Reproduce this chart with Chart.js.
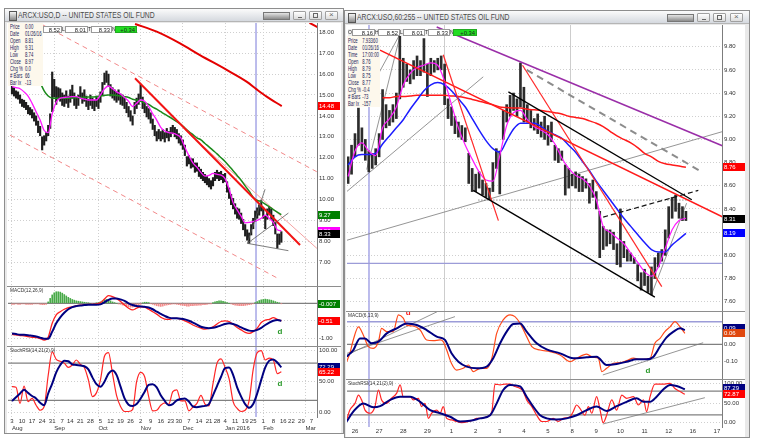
<!DOCTYPE html>
<html>
<head>
<meta charset="utf-8">
<title>ARCX:USO</title>
<script src="https://cdn.jsdelivr.net/npm/chart.js@4.4.1/dist/chart.umd.min.js"></script>
<style>
html,body{margin:0;padding:0;}
body{width:763px;height:442px;position:relative;overflow:hidden;background:#fff;font-family:"Liberation Sans",Arial,sans-serif;}
.win{position:absolute;background:#e9e9e9;border:1px solid #8d8d8d;box-sizing:border-box;}
.tbar{position:absolute;height:13px;background:linear-gradient(#fbfbfb,#d5d9df);border-bottom:1px solid #b5b5b5;box-sizing:border-box;}
.ttl{position:absolute;font-size:8.5px;color:#4a4a4a;white-space:nowrap;transform:scaleX(0.8);transform-origin:0 0;line-height:10px;}
.ico{position:absolute;width:6px;height:8px;border:1px solid #555;background:linear-gradient(#f4f4f4,#8a8a8a);}
.wid{position:absolute;height:6px;border:1px solid #777;background:linear-gradient(#e4e4e4,#8c8c8c);}
.btn{position:absolute;width:13px;height:9px;border:1px solid #a0a0a0;border-radius:1px;background:linear-gradient(#fff,#dcdcdc);box-sizing:border-box;}
.btn i{position:absolute;display:block;}
.plot{position:absolute;background:#fff;}
.sep{position:absolute;height:1px;background:#8e8e8e;}
canvas{position:absolute;}
.plbl{position:absolute;font-size:6px;color:#333;white-space:nowrap;transform:scaleX(0.8);transform-origin:0 0;}
.info{position:absolute;background:#fdf8ec;}
.info div{position:absolute;font-size:6.3px;color:#23235a;white-space:nowrap;transform:scaleX(0.68);transform-origin:0 0;line-height:7px;}
.tbx{position:absolute;height:7px;background:#fff;border:1px solid #9a9a9a;box-sizing:border-box;font-size:5.8px;line-height:6px;text-align:right;padding-right:1px;color:#222;overflow:hidden;}
.tlt{position:absolute;height:7px;width:3px;font-size:5px;line-height:7px;color:#222;background:#eee;text-align:center;}
</style>
</head>
<body>
<!-- left window -->
<div class="win" style="left:4px;top:8px;width:340px;height:426px;"></div>
<div class="tbar" style="left:5px;top:9px;width:338px;"></div>
<div class="ico" style="left:9px;top:11px;"></div>
<div class="ttl" style="left:18px;top:10px;">ARCX:USO,D -- UNITED STATES OIL FUND</div>
<div class="wid" style="left:263px;top:12px;width:25px;"></div>
<div class="btn" style="left:293px;top:11px;"><i style="left:4px;top:5px;width:4px;height:1px;background:#666"></i></div>
<div class="btn" style="left:309px;top:11px;"><i style="left:3px;top:1px;width:5px;height:5px;border:1px solid #666;box-sizing:border-box"></i></div>
<div class="btn" style="left:325px;top:11px;"><i style="left:3px;top:-2px;font-size:8px;color:#666;font-style:normal">&#215;</i></div>
<div class="plot" style="left:7px;top:23px;width:334px;height:410px;"></div>
<div class="sep" style="left:7px;top:286px;width:334px;"></div>
<div class="sep" style="left:7px;top:346px;width:334px;"></div>

<!-- right window -->
<div class="win" style="left:344px;top:10px;width:406px;height:428px;"></div>
<div class="tbar" style="left:345px;top:11px;width:404px;"></div>
<div class="ico" style="left:348px;top:13px;"></div>
<div class="ttl" style="left:357px;top:12px;">ARCX:USO,60:255 -- UNITED STATES OIL FUND</div>
<div class="wid" style="left:667px;top:14px;width:25px;"></div>
<div class="btn" style="left:697px;top:13px;"><i style="left:4px;top:5px;width:4px;height:1px;background:#666"></i></div>
<div class="btn" style="left:713px;top:13px;"><i style="left:3px;top:1px;width:5px;height:5px;border:1px solid #666;box-sizing:border-box"></i></div>
<div class="btn" style="left:730px;top:13px;"><i style="left:3px;top:-2px;font-size:8px;color:#666;font-style:normal">&#215;</i></div>
<div class="plot" style="left:346px;top:25px;width:399px;height:412px;"></div>
<div class="sep" style="left:346px;top:311px;width:399px;"></div>
<div class="sep" style="left:346px;top:379px;width:399px;"></div>

<canvas id="lp" width="332" height="263" style="left:8px;top:23px;"></canvas>
<canvas id="lm" width="332" height="59" style="left:8px;top:287px;"></canvas>
<canvas id="ls" width="332" height="86" style="left:8px;top:347px;"></canvas>
<canvas id="rp" width="398" height="286" style="left:347px;top:25px;"></canvas>
<canvas id="rm" width="398" height="67" style="left:347px;top:312px;"></canvas>
<canvas id="rs" width="398" height="57" style="left:347px;top:380px;"></canvas>

<!-- overlays: left -->
<div class="info" style="left:8px;top:23px;width:35px;height:63px;">
  <div style="left:2px;top:0px">Price<span style="position:absolute;left:22px">0.00</span></div>
  <div style="left:2px;top:7px">Date<span style="position:absolute;left:22px">01/26/16</span></div>
  <div style="left:2px;top:14px">Open<span style="position:absolute;left:22px">8.81</span></div>
  <div style="left:2px;top:21px">High<span style="position:absolute;left:22px">9.31</span></div>
  <div style="left:2px;top:28px">Low<span style="position:absolute;left:22px">8.74</span></div>
  <div style="left:2px;top:35px">Close<span style="position:absolute;left:22px">8.97</span></div>
  <div style="left:2px;top:42px">Chg %<span style="position:absolute;left:22px">0.0</span></div>
  <div style="left:2px;top:49px"># Bars<span style="position:absolute;left:22px">66</span></div>
  <div style="left:2px;top:56px">Bar Ix<span style="position:absolute;left:22px">-13</span></div>
</div>
<div class="tbx" style="left:43px;top:26px;width:19px;">8.52</div>
<div class="tlt" style="left:62px;top:26px;">L</div>
<div class="tbx" style="left:65px;top:26px;width:23px;">8.01</div>
<div class="tlt" style="left:88px;top:26px;">T</div>
<div class="tbx" style="left:91px;top:26px;width:21px;">8.33</div>
<div class="tlt" style="left:112px;top:26px;">N</div>
<div class="tbx" style="left:115px;top:26px;width:22px;background:#22dd22;border-color:#22aa22;">+0.34</div>
<div class="plbl" style="left:10px;top:287px;">MACD(12,26,9)</div>
<div class="plbl" style="left:10px;top:347px;">StochRSI(14,21(2),9)</div>

<!-- overlays: right -->
<div class="tlt" style="left:348px;top:29px;width:4px;">O</div>
<div class="tbx" style="left:352px;top:29px;width:23px;">8.16</div>
<div class="tlt" style="left:375px;top:29px;">H</div>
<div class="tbx" style="left:378px;top:29px;width:22px;">8.52</div>
<div class="tlt" style="left:400px;top:29px;">L</div>
<div class="tbx" style="left:403px;top:29px;width:22px;">8.01</div>
<div class="tlt" style="left:425px;top:29px;">T</div>
<div class="tbx" style="left:428px;top:29px;width:22px;">8.33</div>
<div class="tlt" style="left:450px;top:29px;">N</div>
<div class="tbx" style="left:453px;top:29px;width:24px;background:#22dd22;border-color:#22aa22;">+0.34</div>
<div class="info" style="left:347px;top:36px;width:33px;height:71px;">
  <div style="left:1px;top:1px">Price<span style="position:absolute;left:21px">7.93360</span></div>
  <div style="left:1px;top:8px">Date<span style="position:absolute;left:21px">01/26/16</span></div>
  <div style="left:1px;top:15px">Time<span style="position:absolute;left:21px">17:00:00</span></div>
  <div style="left:1px;top:22px">Open<span style="position:absolute;left:21px">8.76</span></div>
  <div style="left:1px;top:29px">High<span style="position:absolute;left:21px">8.79</span></div>
  <div style="left:1px;top:36px">Low<span style="position:absolute;left:21px">8.75</span></div>
  <div style="left:1px;top:43px">Close<span style="position:absolute;left:21px">8.77</span></div>
  <div style="left:1px;top:50px">Chg %<span style="position:absolute;left:21px">-0.4</span></div>
  <div style="left:1px;top:57px"># Bars<span style="position:absolute;left:21px">-73</span></div>
  <div style="left:1px;top:64px">Bar Ix<span style="position:absolute;left:21px">-157</span></div>
</div>
<div class="plbl" style="left:348px;top:312px;">MACD(6,13,9)</div>
<div class="plbl" style="left:348px;top:380px;">StochRSI(14,21(2),9)</div>

<script>
const FONT = '"Liberation Sans", Arial, sans-serif';

/* ================= LEFT: daily (x = trading-day index from Aug 3, 2015) ================= */
const leftDayTicks = [0,5,10,15,20,25,29,34,39,44,49,54,59,64,69,74,79,83,88,93,98,102,106,111,116,120,125,130,135,139,144,149];
const leftDayLabels = ['3','10','17','24','31','7','14','21','28','5','12','19','26','2','9','16','23','30','7','14','21','28','4','11','19','25','1','8','16','22','29','7'];
const leftMonthTicks = [0,21,43,64,85,106,125,146];
const leftMonthLabels = ['Aug','Sep','Oct','Nov','Dec','Jan 2016','Feb','Mar'];
const leftPriceTicks = [7,8,9,10,11,12,13,14,15,16,17,18];
const leftMacdTicks = [0,-0.5,-1];
const stochTicks = [0,50,100];

const leftHigh = [15.45,15.35,15.2,15.15,15.0,14.8,14.75,14.65,14.5,14.4,14.3,14.15,14.0,13.75,13.5,13.0,13.05,13.2,13.55,14.1,
 16.1,15.75,15.4,15.35,15.3,15.1,15.0,15.2,14.95,15.25,15.47,15.1,14.85,15.0,15.4,15.1,15.25,14.95,14.8,15.0,
 14.85,14.75,14.95,14.85,15.15,15.6,16.05,16.15,16.0,15.5,15.35,15.25,15.15,15.25,15.05,15.0,14.85,14.65,14.45,14.25,
 14.0,14.65,14.85,15.05,15.5,14.9,14.65,14.45,14.35,14.15,13.85,13.55,13.25,13.35,13.25,13.35,13.2,13.4,13.25,13.45,
 13.55,13.45,13.35,13.15,13.05,12.85,12.6,12.05,12.1,11.95,11.95,11.75,11.75,11.55,11.45,11.3,11.2,11.1,11.0,10.9,
 11.05,11.3,11.4,11.3,11.35,11.2,11.25,10.85,10.55,10.25,10.05,9.8,9.6,9.55,9.35,9.05,8.8,8.55,8.4,8.8,
 9.1,9.45,9.6,9.75,9.95,9.6,9.2,9.55,9.66,9.55,9.25,8.9,8.35,8.35,8.46];
const leftLow = [15.05,14.95,14.85,14.8,14.6,14.45,14.4,14.3,14.1,14.05,13.9,13.75,13.55,13.2,13.05,12.37,12.6,12.8,13.05,13.4,
 14.2,14.9,14.55,14.8,14.7,14.5,14.45,14.6,14.4,14.65,14.85,14.5,14.35,14.5,14.85,14.6,14.7,14.45,14.3,14.5,
 14.35,14.25,14.45,14.35,14.65,15.0,15.5,15.6,15.4,14.95,14.85,14.75,14.65,14.75,14.55,14.5,14.35,14.15,13.95,13.75,
 13.56,14.1,14.35,14.55,14.8,14.35,14.15,13.95,13.85,13.65,13.35,13.05,12.8,12.9,12.8,12.9,12.75,12.95,12.8,13.0,
 13.15,13.0,12.9,12.7,12.6,12.4,12.1,11.6,11.7,11.5,11.55,11.3,11.35,11.1,11.0,10.9,10.8,10.7,10.6,10.5,
 10.65,10.9,11.0,10.9,10.95,10.8,10.85,10.35,10.05,9.75,9.55,9.3,9.1,9.05,8.85,8.55,8.25,8.05,7.9,8.3,
 8.6,8.95,9.1,9.25,9.45,9.1,8.6,9.05,9.3,9.05,8.75,8.35,7.67,7.85,7.95];
// moving averages / oscillators sampled every 2 trading days (from index 0)
const leftStep = 2;
const leftFastMA = [15.4,15.35,15.3,15.15,14.95,14.6,14.2,13.8,13.3,13.2,14.1,14.65,14.85,14.88,14.9,14.92,14.92,14.85,14.8,14.76,
 14.76,14.76,15.0,15.3,15.43,15.3,15.15,15.05,14.88,14.7,14.45,14.6,14.76,14.7,14.45,14.1,13.8,13.45,13.28,13.2,
 13.17,13.1,12.95,12.5,12.1,11.75,11.55,11.3,11.12,11.15,11.25,11.2,11.17,11.0,10.5,9.85,9.5,9.2,8.88,8.9,
 8.94,9.0,9.1,9.25,9.1,8.9,8.55,8.5];
const leftMidMAStart = 14;
const leftMidMA = [15.6,15.2,14.95,14.85,14.84,14.84,14.84,14.85,14.86,14.87,14.88,14.89,14.9,14.9,14.92,14.95,14.98,15.0,15.0,14.98,
 14.95,14.92,14.88,14.8,14.76,14.7,14.62,14.55,14.42,14.32,14.2,14.08,13.97,13.85,13.72,13.6,13.42,13.25,13.1,12.95,
 12.85,12.68,12.52,12.35,12.18,12.0,11.82,11.6,11.38,11.15,10.92,10.65,10.4,10.1,9.95,9.9,9.78,9.65,9.52,9.4,9.27];
const leftSlowMAX = [61.2,72,83.6,93.5,106.8,116.7,121.7,126.7,134.2];
const leftSlowMAY = [18.40,18.03,17.47,16.91,16.2,15.64,15.27,14.92,14.47];
const leftMacd = [-0.89,-0.90,-0.92,-0.93,-0.95,-0.97,-0.98,-1.01,-1.05,-0.97,-0.57,-0.33,-0.24,-0.17,-0.12,-0.10,-0.07,-0.05,-0.04,-0.03,
 -0.03,-0.02,0.02,0.12,0.22,0.19,0.13,0.05,-0.05,-0.14,-0.19,-0.14,-0.10,-0.11,-0.17,-0.24,-0.31,-0.40,-0.45,-0.46,
 -0.43,-0.43,-0.45,-0.50,-0.55,-0.62,-0.67,-0.71,-0.74,-0.72,-0.67,-0.59,-0.52,-0.50,-0.52,-0.60,-0.69,-0.76,-0.83,-0.86,
 -0.81,-0.71,-0.55,-0.48,-0.46,-0.41,-0.46,-0.50];
const leftSignal = [-0.86,-0.88,-0.90,-0.90,-0.91,-0.93,-0.95,-0.98,-1.01,-1.01,-0.81,-0.57,-0.40,-0.27,-0.17,-0.11,-0.08,-0.06,-0.05,-0.04,
 -0.04,-0.04,-0.03,0.03,0.10,0.14,0.14,0.11,0.07,0.00,-0.05,-0.08,-0.09,-0.10,-0.12,-0.17,-0.24,-0.30,-0.36,-0.41,
 -0.43,-0.43,-0.44,-0.46,-0.50,-0.55,-0.61,-0.67,-0.70,-0.71,-0.70,-0.67,-0.63,-0.59,-0.57,-0.59,-0.63,-0.69,-0.74,-0.78,
 -0.79,-0.76,-0.70,-0.62,-0.55,-0.50,-0.48,-0.50];
const leftHist = [-0.03,-0.03,-0.02,-0.03,-0.03,-0.02,-0.02,-0.03,-0.03,-0.03,-0.03,-0.02,-0.02,-0.02,-0.03,-0.04,-0.04,-0.03,
 0.04,0.14,0.24,0.30,0.33,0.33,0.32,0.29,0.25,0.21,0.17,0.14,0.11,0.09,0.07,0.06,0.05,0.04,0.03,0.02,
 0.01,0.00,-0.01,0.00,0.01,0.02,
 0.04,0.07,0.10,0.11,0.10,0.07,0.04,
 0.02,0.00,-0.02,-0.03,-0.05,-0.06,
 -0.08,-0.10,-0.11,-0.11,-0.09,-0.07,-0.05,-0.03,
 0.01,0.03,0.03,0.02,
 -0.01,-0.03,-0.05,-0.07,-0.08,-0.09,-0.08,-0.06,-0.05,-0.04,-0.03,-0.02,
 -0.02,-0.03,-0.04,-0.05,-0.06,-0.07,-0.08,-0.08,-0.07,-0.07,-0.06,-0.06,-0.05,-0.05,-0.04,-0.04,-0.03,-0.02,-0.01,
 0.02,0.04,0.06,0.07,0.07,0.06,0.04,0.02,0.00,
 -0.02,-0.04,-0.05,-0.06,-0.07,-0.07,-0.07,-0.06,-0.05,-0.04,-0.03,-0.01,
 0.02,0.05,0.08,0.10,0.11,0.12,0.11,0.10,0.09,0.07,0.05,0.03,0.01,-0.01];
const leftStochK = [42,41,15,43,18,23,12,4,10,60,98,86,83,80,73,77,85,78,73,53,
 26,32,53,91,97,63,28,10,2,2,5,50,65,58,26,3,4,12,16,14,
 34,37,19,19,3,9,15,28,14,11,47,80,87,73,55,18,7,2,4,20,
 70,97,100,85,88,85,63,66];
const leftStochD = [19,25,31,37,32,27,23,16,12,31,47,65,77,84,83,78,77,76,75,70,
 57,46,42,50,63,68,61,42,23,13,11,14,23,34,45,46,41,28,19,12,
 14,20,22,23,18,10,9,10,11,14,28,43,58,72,73,61,41,26,14,8,
 14,31,53,73,84,86,81,73];
const leftCursor = 121.4;
const leftTrendMain = [[61.2,15.80],[143.3,7.82]];
const leftTrendInner = [[86.1,13.33],[151.7,7.66]];
const leftChannelUpper = [[15.4,18.35],[151.6,11.33]];
const leftChannelLower = [[-1,13.08],[131.8,6.25]];
const leftTopRed = [[148,18.45],[152,18.25]];
const leftTriangle = [[[117.1,7.90],[125.9,10.49]],[[117.1,7.90],[137.5,9.35]],[[117.1,7.90],[137.5,7.55]]];
const leftPriceTagVals = [14.47,9.27,8.50,8.33];
const leftPriceTagText = ['14.48','9.27','8.50','8.33'];
const leftMacdTagVals = [-0.007,-0.51];
const leftMacdTagText = ['-0.007','-0.51'];
const leftStochTagVals = [74,65.22];
const leftStochTagText = ['72.29','65.22'];
const leftMarks = {macd:[133.3,-0.81], stoch:[133.3,46]};

/* ================= RIGHT: hourly (x = bar index, 7 bars per session, 0 = Jan 26 open) ================= */
const rightDayTicks = [0,7,14,21,28,35,42,49,56,63,70,77,84,91,98,105];
const rightDayLabels = ['26','27','28','29','1','2','3','4','5','8','9','10','11','12','16','17'];
const rightWeekLines = [26.1,62.4];
const rightPriceTicks = [7.6,7.8,8.0,8.2,8.4,8.6,8.8,9.0,9.2,9.4,9.6,9.8];
const rightMacdTicks = [0.1,0,-0.1];
const rightStart = -2;
const rightHigh = [8.85,8.95,9.05,9.27,9.10,9.00,8.90,8.88,8.92,9.05,9.43,9.30,9.25,9.30,9.40,9.92,9.70,9.65,9.60,9.68,
 9.72,9.68,9.87,9.65,9.70,9.68,9.70,9.72,9.65,9.35,9.28,9.20,9.15,9.12,9.10,8.88,8.75,8.70,8.72,8.65,
 8.62,8.58,8.80,8.92,8.90,9.25,9.30,9.38,9.40,9.35,9.66,9.45,9.30,9.25,9.18,9.22,9.15,9.20,9.12,9.15,
 8.95,8.92,8.90,8.78,8.75,8.70,8.72,8.70,8.68,8.66,8.62,8.65,8.55,8.38,8.25,8.22,8.22,8.20,8.10,8.40,
 8.12,8.05,8.02,7.98,7.92,7.85,7.88,7.82,7.90,7.98,8.02,8.05,8.22,8.42,8.50,8.52,8.45,8.42,8.38];
const rightLow = [8.62,8.70,8.85,8.95,8.90,8.82,8.72,8.75,8.78,8.85,9.00,9.10,9.12,9.15,9.18,9.35,9.45,9.50,9.48,9.52,
 9.55,9.55,9.58,9.37,9.55,9.58,9.60,9.60,9.30,9.18,9.12,9.05,9.02,9.00,8.98,8.62,8.55,8.55,8.58,8.52,
 8.50,8.48,8.55,8.75,8.53,9.00,9.15,9.20,9.25,9.20,9.28,9.15,9.15,9.10,9.08,9.05,9.02,9.00,8.95,8.98,
 8.82,8.80,8.82,8.52,8.58,8.60,8.58,8.55,8.55,8.58,8.45,8.50,8.40,7.98,8.05,8.08,8.10,8.05,7.92,7.90,
 7.98,7.95,7.95,7.93,7.78,7.70,7.74,7.68,7.66,7.80,7.90,7.95,8.00,8.15,8.32,8.38,8.32,8.30,8.30];
const rightStep = 2;
const rightFastMA = [8.68,8.90,8.97,8.90,8.86,9.10,9.18,9.28,9.47,9.57,9.62,9.64,9.66,9.64,9.50,9.30,9.10,8.95,8.83,8.72,
 8.65,8.64,8.86,9.12,9.23,9.25,9.17,9.11,9.08,9.04,8.96,8.84,8.75,8.69,8.66,8.60,8.48,8.25,8.20,8.15,
 8.10,8.02,7.94,7.86,7.82,7.90,8.06,8.22,8.30,8.32];
const rightMidMA = [8.78,8.85,8.87,8.87,8.88,8.96,9.03,9.10,9.17,9.26,9.34,9.42,9.47,9.49,9.47,9.42,9.35,9.28,9.18,9.08,
 8.99,8.92,8.89,8.99,9.09,9.14,9.14,9.14,9.11,9.07,9.04,9.01,8.95,8.89,8.81,8.73,8.64,8.56,8.48,8.40,
 8.32,8.25,8.18,8.11,8.05,8.03,8.03,8.09,8.14,8.19];
const rightSlowMAStart = 8;
const rightSlowMA = [9.36,9.36,9.37,9.37,9.375,9.38,9.38,9.38,9.38,9.38,9.375,9.37,9.36,9.345,9.33,9.315,9.30,9.28,9.275,9.27,
 9.27,9.26,9.255,9.25,9.24,9.23,9.22,9.20,9.19,9.18,9.16,9.14,9.11,9.07,9.03,9.00,8.97,8.93,8.88,8.85,
 8.81,8.79,8.78,8.77,8.76];
const rightMacdX = [-2.4,-1.5,-0.5,1,2.4,3.9,5.3,6.8,7.7,9.2,11.1,12.6,14,15,16.9,18.9,20.8,22.7,24.7,25.6,
 26.6,28,29.5,31.4,32.9,34.3,36.3,38.2,39.7,41.1,43,45,46.4,47.9,49.8,51.3,53.7,56.6,59.5,62.4,
 64.3,67.2,69.1,70.6,71.6,73,75,76.9,78.8,80.8,82.7,85.6,87,88.5,89.9,91.4,92.8,94.3,95.7];
const rightMacdY = [-0.10,-0.052,0.025,0.10,0.054,-0.013,-0.023,0.015,0.092,0.073,0.073,0.169,0.15,0.11,0.105,0.082,0.025,0.021,0.025,0.015,
 -0.033,-0.11,-0.148,-0.138,-0.119,-0.157,-0.138,-0.138,-0.08,0.063,0.14,0.169,0.159,0.12,0.044,-0.013,-0.033,-0.042,-0.061,-0.10,
 -0.08,-0.056,-0.075,-0.08,-0.157,-0.138,-0.109,-0.105,-0.094,-0.08,-0.086,-0.08,0.006,0.034,0.073,0.10,0.13,0.10,0.063];
const rightSignalX = [-2.4,-0.5,1.45,2.9,4.8,6.8,9.2,12.1,15,17.9,20.8,23.7,26.1,28,30,32.4,35.3,38.2,40.1,42.1,
 44,45.9,47.9,49.8,52.7,55.6,59.5,63.3,67.2,70.1,73,75.9,78.8,81.7,84.6,86.6,88.5,90.4,92.4,94.3,95.7];
const rightSignalY = [-0.071,-0.033,0.034,0.034,0.006,0.015,0.063,0.092,0.12,0.111,0.082,0.044,0.025,-0.052,-0.10,-0.128,-0.138,-0.128,-0.08,0.006,
 0.073,0.117,0.12,0.073,0.006,-0.029,-0.052,-0.08,-0.075,-0.071,-0.119,-0.113,-0.10,-0.086,-0.086,-0.071,-0.013,0.04,0.073,0.092,0.082];
const rightStochKX = [-2.4,-1.5,0,1,1.9,2.9,4.4,5.8,6.8,7.7,9.2,10.6,12.1,13.1,14,16,16.9,18.4,19.3,20.3,
 21.3,22.2,23.7,24.7,25.6,26.6,28,29.5,30.9,32.9,34.3,35.3,36.8,38.2,39.7,40.6,42.1,43.5,45,46.4,
 47.9,48.8,49.8,51.3,52.7,54.2,55.6,57.5,59,60.4,62.4,63.3,64.3,65.3,66.7,67.7,68.7,70.1,71.1,72,
 73,74.5,75.9,77.4,78.8,80.8,82.2,83.7,84.6,85.6,87,88.5,89.9,91.4,92.8,94.3,95.7];
const rightStochKY = [7,32,49,70,58,32,24,41,83,58,49,62,75,96,66,66,58,62,41,49,
 11,24,32,24,41,11,7,3,0,3,7,11,11,15,28,98,96,98,98,92,
 87,79,58,41,19,3,3,11,3,11,15,28,45,36,19,41,24,66,32,0,
 19,58,32,70,62,66,45,58,28,66,98,98,98,100,87,79,72];
const rightStochDX = [-2.4,-0.5,2.4,5.3,7.3,10.2,13.1,16,18.9,21.8,24.7,27.6,30.5,33.4,36.3,39.2,41.1,43,45,47.9,
 49.8,51.7,53.7,55.6,58.5,61.4,64.3,67.2,70.1,73,75.9,78.8,81.7,83.7,85.6,87.5,89.5,91.4,93.3,95.7];
const rightStochDY = [3,28,49,39,42,58,66,66,53,32,24,15,3,5,11,19,49,83,96,92,
 66,41,19,11,8,11,19,32,41,30,42,53,62,53,53,66,85,96,93,85];
const rightCursor = 4.06;
const rightSupportLevel = 7.93;
const rightDottedLevel = [[35.8,8.477],[97.2,8.477]];
const rightTrendRed = [[7.25,9.77],[106.8,8.33]];
const rightSteep1 = [[25.6,9.73],[41.6,8.30]];
const rightSteep2 = [[48.6,9.64],[89,7.73]];
const rightPurple = [[23.7,9.97],[112.7,8.87]];
const rightGrayDash = [[49.8,9.60],[100.6,8.72]];
const rightChanUpper = [[44.5,9.41],[97.7,8.48]];
const rightChanLower = [[34.3,8.56],[87,7.64]];
const rightBlackDash = [[72,8.33],[99.6,8.56]];
const rightThinGray = [[[-2.4,8.13],[106.9,9.07]],[[-2.4,8.55],[37.2,9.54]],[[3.4,8.74],[13.1,9.90]],[[7.06,9.58],[12.9,9.90]],[[86,7.66],[96.2,8.45]]];
const rightMacdLevel = 0.13;
const rightMacdSupport = [[[-2.32,-0.062],[23.8,0.187]],[[-2.32,-0.052],[29,0.159]],[[71.9,-0.176],[101,0.009]]];
const rightStochSupport = [[71.9,-3.3],[101.5,63.5]];
const rightPriceTagVals = [8.76,8.31,8.19];
const rightPriceTagText = ['8.76','8.31','8.19'];
const rightMacdTagVals = [0.092,0.063];
const rightMacdTagText = ['0.09','0.06'];
const rightStochTagVals = [87.29,72.87];
const rightStochTagText = ['87.29','72.87'];
const rightMarks = {red:[15.4,0.18], green:[85,-0.153]};

/* ================= helpers ================= */
const LX = {min:-1.99, max:151.74};
const RX = {min:-2.32, max:106.47};
const sampled = (arr, start, step) => arr.map((v,k) => ({x:start + k*step, y:v}));
const paired = (xs, ys) => xs.map((x,k) => ({x:x, y:ys[k]}));
const seg = s => s.map(p => ({x:p[0], y:p[1]}));
function L(data, color, width, extra) {
  return Object.assign({type:'line', data:data, borderColor:color, borderWidth:width, pointRadius:0,
    fill:false, tension:0, spanGaps:true}, extra || {});
}
const SM = {cubicInterpolationMode:'monotone'};
function hbars(hi, lo, start, color, th) {
  return {type:'bar', data:hi.map((h,k) => ({x:start + k, y:[lo[k], h]})), backgroundColor:color,
    borderWidth:0, barThickness:th, grouped:false};
}
function ordered(list) { list.forEach((d,k) => { d.order = list.length - k; }); return list; }
function tagPlugin(vals, texts, colors, marks) {
  return { id:'tags', afterDraw(chart) {
    const ctx = chart.ctx, ys = chart.scales.y, xs = chart.scales.x, a = chart.chartArea;
    ctx.save();
    vals.forEach((v,k) => {
      const y = ys.getPixelForValue(v);
      ctx.fillStyle = colors[k];
      ctx.fillRect(a.right + 1, Math.round(y) - 4, 22, 8);
      ctx.fillStyle = '#fff';
      ctx.font = '6px ' + FONT; ctx.textAlign = 'left'; ctx.textBaseline = 'middle';
      ctx.fillText(texts[k], a.right + 2, Math.round(y) + 0.5);
    });
    (marks || []).forEach(m => {
      ctx.fillStyle = m.color; ctx.font = 'bold 8px ' + FONT; ctx.textAlign = 'center'; ctx.textBaseline = 'middle';
      ctx.fillText('d', xs.getPixelForValue(m.x), ys.getPixelForValue(m.y));
    });
    ctx.restore();
  }};
}
function yAxis(min, max, ticks, dash) {
  return { type:'linear', position:'right', min:min, max:max,
    afterBuildTicks: s => { s.ticks = ticks.map(v => ({value:v})); },
    afterFit: s => { s.width = 23; s.paddingTop = 0; s.paddingBottom = 0; },
    ticks: { callback: v => Number(v).toFixed(2), font:{size:6, family:FONT}, color:'#333', padding:2, autoSkip:false },
    grid: { color:'#cfcfcf', lineWidth:1, drawTicks:false },
    border: { display:true, color:'#7c7c7c', width:1, dash:dash } };
}
function xGrid(range, gridTicks, color, dash) {
  return { type:'linear', min:range.min, max:range.max, offset:false,
    afterBuildTicks: s => { s.ticks = gridTicks.map(v => ({value:v})); },
    afterFit: s => { s.height = 0; s.paddingLeft = 0; s.paddingRight = 0; },
    ticks: { display:false },
    grid: { color:color, lineWidth:1, drawTicks:false, offset:false },
    border: { display:false, dash:dash } };
}
function xLabels(range, ticks, labels, h, align, weight, pad) {
  return { type:'linear', position:'bottom', min:range.min, max:range.max, offset:false, weight:weight,
    afterBuildTicks: s => { s.ticks = ticks.map(v => ({value:v})); },
    afterFit: s => { s.height = h; s.paddingLeft = 0; s.paddingRight = 0; },
    ticks: { autoSkip:false, maxRotation:0, minRotation:0, padding:pad, align:align,
      font:{size:6, family:FONT}, color:'#333', callback: (v,k) => labels[k] },
    grid: { display:false, drawTicks:false }, border: { display:false } };
}
function make(id, datasets, scales, plugin) {
  return new Chart(document.getElementById(id), {
    type:'bar',
    data:{ datasets: ordered(datasets) },
    options:{ responsive:false, animation:false, events:[], layout:{padding:0},
      plugins:{ legend:{display:false}, tooltip:{enabled:false} }, scales:scales },
    plugins:[plugin]
  });
}
const vline = (x, y0, y1, c, w) => L(seg([[x,y0],[x,y1]]), c, w);
const hline = (y, r, c, w, extra) => L(seg([[r.min,y],[r.max,y]]), c, w, extra);
const CURSOR = '#a6a6e6';

/* ================= LEFT charts ================= */
make('lp', [
  vline(leftCursor, 0, 30, CURSOR, 1.5),
  L(seg(leftChannelUpper), '#f2898a', 1, {borderDash:[5,4]}),
  L(seg(leftChannelLower), '#f2898a', 1, {borderDash:[5,4]}),
  hbars(leftHigh, leftLow, 0, '#1e1e1e', 1.5),
  L(seg(leftTrendInner), '#f4a2a2', 1),
  L(sampled(leftMidMA, leftMidMAStart, leftStep), '#1b8a1b', 1.5, SM),
  L(sampled(leftFastMA, 0, leftStep), '#ff19ff', 1.3, SM),
  L(paired(leftSlowMAX, leftSlowMAY), '#e40000', 2, SM),
  L(seg(leftTrendMain), '#f21414', 2),
  L(seg(leftTopRed), '#e40000', 2),
  ...leftTriangle.map(s => L(seg(s), '#5c5c5c', 0.8))
], { x: xGrid(LX, leftMonthTicks, '#cfcfcf', [1,2]), y: yAxis(5.86, 18.445, leftPriceTicks, [1,2]) },
  tagPlugin(leftPriceTagVals, leftPriceTagText, ['#ff0000','#008000','#ff00ff','#000000']));

make('lm', [
  vline(leftCursor, -5, 5, CURSOR, 1.5),
  hline(0, LX, '#808080', 1.2),
  {type:'bar', data:leftHist.map((v,k) => ({x:k, y:v})), backgroundColor:leftHist.map(v => v >= 0 ? '#48aa48' : '#f28a8a'),
    borderWidth:0, barThickness:1, grouped:false},
  L(sampled(leftMacd, 0, leftStep), '#ff2020', 1.3, SM),
  L(sampled(leftSignal, 0, leftStep), '#000080', 2, SM)
], { x: xGrid(LX, leftMonthTicks, '#cfcfcf', [1,2]), y: yAxis(-1.22, 0.466, leftMacdTicks, [1,2]) },
  tagPlugin(leftMacdTagVals, leftMacdTagText, ['#008000','#ff0000'],
    [{x:leftMarks.macd[0], y:leftMarks.macd[1], color:'#2a9a2a'}]));

make('ls', [
  vline(leftCursor, -20, 120, CURSOR, 1.5),
  hline(80, LX, '#808080', 1.3),
  hline(20, LX, '#808080', 1.3),
  L(sampled(leftStochK, 0, leftStep), '#ff2626', 1.2, SM),
  L(sampled(leftStochD, 0, leftStep), '#000080', 2, SM)
], { x: xLabels(LX, leftDayTicks, leftDayLabels, 8, 'center', 0, 1),
     x2: Object.assign(xLabels(LX, leftMonthTicks, leftMonthLabels, 8, 'start', 1, 0),
        { grid:{display:true, color:'#cfcfcf', drawTicks:false, offset:false}, border:{display:false, dash:[1,2]} }),
     y: yAxis(-6.9, 106.0, stochTicks, [1,2]) },
  tagPlugin(leftStochTagVals, leftStochTagText, ['#000080','#ff0000'],
    [{x:leftMarks.stoch[0], y:leftMarks.stoch[1], color:'#2a9a2a'}]));

/* ================= RIGHT charts ================= */
make('rp', [
  vline(rightCursor, 0, 20, CURSOR, 1.5),
  hline(rightSupportLevel, RX, '#9c9cd8', 1.2),
  ...rightThinGray.map(s => L(seg(s), '#7a7a7a', 0.8)),
  L(seg(rightDottedLevel), '#333', 0.8, {borderDash:[1,2]}),
  hbars(rightHigh, rightLow, rightStart, '#2c2c2c', 2),
  L(sampled(rightSlowMA, rightSlowMAStart, rightStep), '#ff1a1a', 1.5, SM),
  L(sampled(rightMidMA, rightStart, rightStep), '#1c1cff', 1.5, SM),
  L(sampled(rightFastMA, rightStart, rightStep), '#ff19ff', 1.2, SM),
  L(seg(rightTrendRed), '#ff1a1a', 1.5),
  L(seg(rightSteep1), '#ff2a2a', 1.2),
  L(seg(rightSteep2), '#ff2a2a', 1.2),
  L(seg(rightPurple), '#9a2ea8', 1.5),
  L(seg(rightGrayDash), '#8c8c8c', 2, {borderDash:[7,5]}),
  L(seg(rightChanUpper), '#000000', 1.3),
  L(seg(rightChanLower), '#000000', 1.3),
  L(seg(rightBlackDash), '#111111', 1.2, {borderDash:[5,3]})
], { x: xGrid(RX, rightWeekLines, '#cdcdcd', []), y: yAxis(7.52, 9.987, rightPriceTicks, [1,2]) },
  tagPlugin(rightPriceTagVals, rightPriceTagText, ['#ff0000','#000000','#0000ff']));

make('rm', [
  vline(rightCursor, -1, 1, CURSOR, 1.5),
  hline(rightMacdLevel, RX, '#9c9cd8', 1.5),
  hline(0, RX, '#808080', 1.3),
  ...rightMacdSupport.map(s => L(seg(s), '#7a7a7a', 0.8)),
  L(paired(rightMacdX, rightMacdY), '#ff4a1a', 1.2, SM),
  L(paired(rightSignalX, rightSignalY), '#000080', 2, SM)
], { x: xGrid(RX, rightWeekLines, '#cdcdcd', []), y: yAxis(-0.1994, 0.1856, rightMacdTicks, [1,2]) },
  tagPlugin(rightMacdTagVals, rightMacdTagText, ['#000080','#e0480e'],
    [{x:rightMarks.red[0], y:rightMarks.red[1], color:'#ff2020'}, {x:rightMarks.green[0], y:rightMarks.green[1], color:'#2a9a2a'}]));

make('rs', [
  vline(rightCursor, -20, 120, CURSOR, 1.5),
  hline(80, RX, '#808080', 1.3),
  hline(20, RX, '#808080', 1.3),
  L(seg(rightStochSupport), '#7a7a7a', 0.8),
  L(paired(rightStochKX, rightStochKY), '#ff2626', 1.2, SM),
  L(paired(rightStochDX, rightStochDY), '#000080', 2, SM)
], { x: xLabels(RX, rightDayTicks, rightDayLabels, 10, 'center', 0, 1),
     x2: Object.assign(xGrid(RX, rightWeekLines, '#cdcdcd', []), {position:'bottom', weight:1}),
     y: yAxis(-10.9, 108.4, stochTicks, [1,2]) },
  tagPlugin(rightStochTagVals, rightStochTagText, ['#000080','#ff0000']));
</script>
</body>
</html>
